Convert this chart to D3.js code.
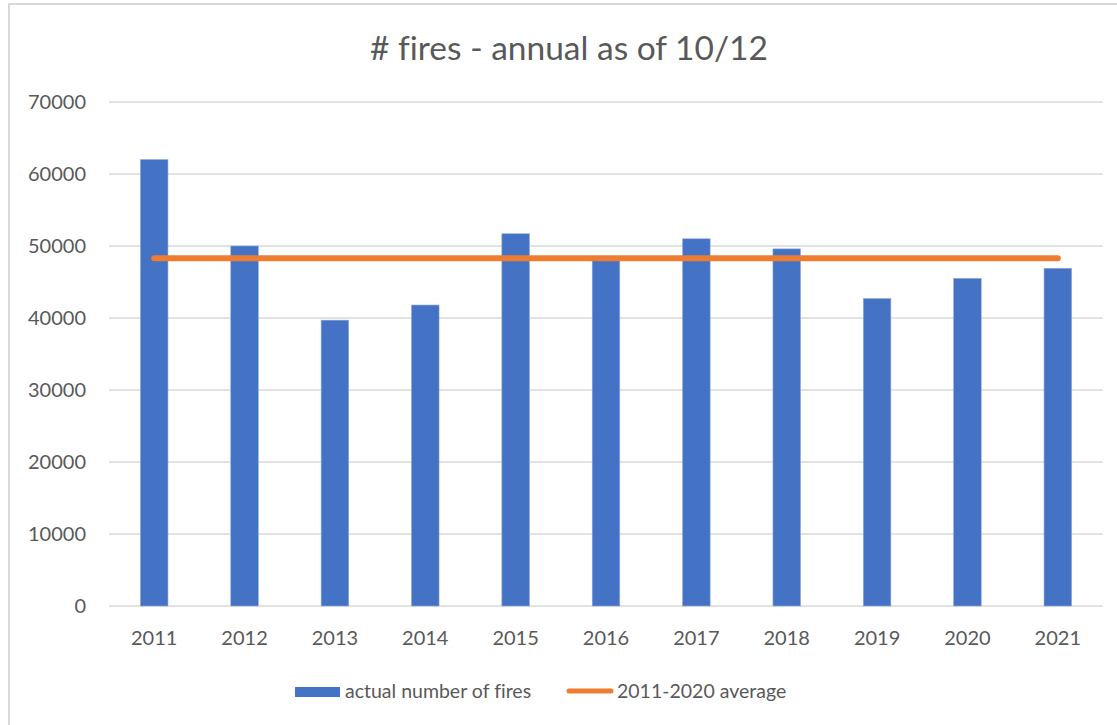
<!DOCTYPE html>
<html>
<head>
<meta charset="utf-8">
<script src="https://cdn.jsdelivr.net/npm/d3@7"></script>
<style>
  html, body { margin: 0; padding: 0; background: #fff; }
  svg { display: block; }
  text { font-family: Lato, "Open Sans", sans-serif; fill: #595959; font-variant-ligatures: none; }
</style>
</head>
<body>
<script>
const years = ["2011","2012","2013","2014","2015","2016","2017","2018","2019","2020","2021"];
const fires = [62000, 50000, 39700, 41800, 51700, 48100, 51000, 49600, 42700, 45500, 46900];
const average = [48300, 48300, 48300, 48300, 48300, 48300, 48300, 48300, 48300, 48300, 48300];
const yTicks = [0, 10000, 20000, 30000, 40000, 50000, 60000, 70000];
const chartTitle = "# fires - annual as of 10/12";
const seriesNames = ["actual number of fires", "2011-2020 average"];

(function () {
const W = 1117, H = 725;
const svg = d3.select("body").append("svg").attr("width", W).attr("height", H);

// chart frame
svg.append("rect").attr("x", 9).attr("y", 4).attr("width", W + 20).attr("height", H + 20)
  .attr("fill", "#fff").attr("stroke", "#d9d9d9").attr("stroke-width", 2);

const pLeft = 109, pRight = 1103, pTop = 102, pBottom = 606;

const x = d3.scaleBand().domain(years).range([pLeft, pRight])
  .paddingInner(0.695).paddingOuter(0.3475);
const y = d3.scaleLinear().domain([0, 70000]).range([pBottom, pTop]);

// gridlines
svg.append("g").selectAll("line").data(yTicks).join("line")
  .attr("x1", pLeft).attr("x2", pRight)
  .attr("y1", d => y(d)).attr("y2", d => y(d))
  .attr("stroke", "#d9d9d9").attr("stroke-width", 1.5);

// y axis labels
svg.append("g").selectAll("text").data(yTicks).join("text")
  .attr("x", 86).attr("y", d => y(d)).attr("dy", "0.35em")
  .attr("text-anchor", "end").attr("font-size", 20).text(d => d);

// x axis labels
svg.append("g").selectAll("text").data(years).join("text")
  .attr("x", d => x(d) + x.bandwidth() / 2).attr("y", 645)
  .attr("text-anchor", "middle").attr("font-size", 20).text(d => d);

// bars
svg.append("g").selectAll("rect").data(years).join("rect")
  .attr("x", d => x(d)).attr("width", x.bandwidth())
  .attr("y", (d, i) => y(fires[i])).attr("height", (d, i) => y(0) - y(fires[i]))
  .attr("fill", "#4472c4").attr("stroke", "#8eaadb").attr("stroke-width", 0.6);

// average line
const line = d3.line().x(d => x(d[0]) + x.bandwidth() / 2).y(d => y(d[1]));
svg.append("path").datum(years.map((yr, i) => [yr, average[i]]))
  .attr("d", line).attr("fill", "none").attr("stroke", "#ed7d31")
  .attr("stroke-width", 6).attr("stroke-linecap", "round");

// title
svg.append("text").attr("x", 569).attr("y", 60).attr("text-anchor", "middle")
  .attr("font-size", 33.5).text(chartTitle);

// legend
const lg = svg.append("g");
lg.append("rect").attr("x", 295).attr("y", 687).attr("width", 45).attr("height", 10).attr("fill", "#4472c4");
lg.append("text").attr("x", 345).attr("y", 698).attr("font-size", 19.5).text(seriesNames[0]);
lg.append("line").attr("x1", 569).attr("x2", 611).attr("y1", 691).attr("y2", 691)
  .attr("stroke", "#ed7d31").attr("stroke-width", 5).attr("stroke-linecap", "round");
lg.append("text").attr("x", 617).attr("y", 698).attr("font-size", 19.5).text(seriesNames[1]);
})();
</script>
</body>
</html>
